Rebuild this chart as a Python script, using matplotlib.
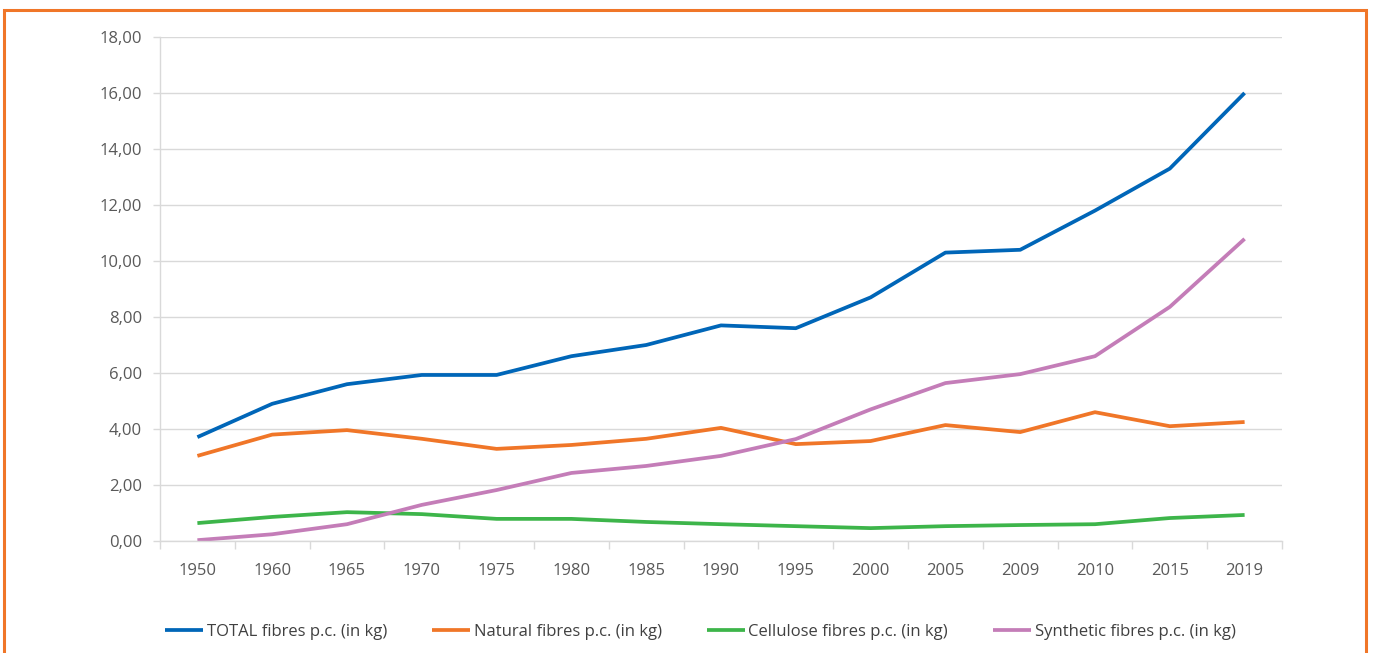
import matplotlib.pyplot as plt
from matplotlib.patches import Rectangle
from matplotlib.ticker import FuncFormatter, MultipleLocator

# Fibre consumption per capita, kg
years = ["1950", "1960", "1965", "1970", "1975", "1980", "1985", "1990",
         "1995", "2000", "2005", "2009", "2010", "2015", "2019"]
total = [3.71, 4.90, 5.60, 5.93, 5.93, 6.60, 7.00, 7.70,
         7.60, 8.70, 10.30, 10.40, 11.80, 13.30, 16.00]
natural = [3.04, 3.80, 3.96, 3.65, 3.29, 3.43, 3.65, 4.04,
           3.46, 3.57, 4.14, 3.89, 4.60, 4.10, 4.25]
cellulose = [0.64, 0.86, 1.03, 0.96, 0.79, 0.79, 0.68, 0.60,
             0.53, 0.46, 0.53, 0.57, 0.60, 0.82, 0.93]
synthetic = [0.03, 0.24, 0.60, 1.29, 1.82, 2.43, 2.68, 3.04,
             3.64, 4.70, 5.64, 5.96, 6.60, 8.36, 10.79]

series = [
    ("TOTAL fibres p.c. (in kg)", total, "#0066B8"),
    ("Natural fibres p.c. (in kg)", natural, "#F07628"),
    ("Cellulose fibres p.c. (in kg)", cellulose, "#3DB54A"),
    ("Synthetic fibres p.c. (in kg)", synthetic, "#C47DB8"),
]

plt.rcParams['font.family'] = ['Open Sans', 'DejaVu Sans']

fig = plt.figure(figsize=(13.73, 6.53), dpi=100)
ax = fig.add_axes([160 / 1373, 1 - 541 / 653, 1122 / 1373, 504 / 653])

x = range(len(years))
for label, vals, color in series:
    ax.plot(x, vals, color=color, lw=2.7, label=label, solid_capstyle='butt')

ax.set_xlim(-0.5, len(years) - 0.5)
ax.set_ylim(0, 18)
ax.yaxis.set_major_locator(MultipleLocator(2))
ax.yaxis.set_major_formatter(FuncFormatter(lambda v, p: f"{v:.2f}".replace(".", ",")))
ax.grid(axis='y', color='#d9d9d9', lw=1)
ax.set_axisbelow(True)

ax.set_xticks(list(x))
ax.set_xticklabels(years)
ax.set_xticks([i + 0.5 for i in range(-1, len(years))], minor=True)
ax.tick_params(axis='x', which='major', length=0, pad=16)
ax.tick_params(axis='x', which='minor', length=6, color='#d9d9d9', width=1)
ax.tick_params(axis='y', length=5, color='#d9d9d9', width=1, pad=8)
ax.tick_params(labelsize=12, labelcolor='#595959')

for side in ['top', 'right']:
    ax.spines[side].set_visible(False)
for side in ['left', 'bottom']:
    ax.spines[side].set_color('#d9d9d9')
    ax.spines[side].set_linewidth(1)

fig.legend(loc='center', bbox_to_anchor=(0.51, 1 - 632 / 653), ncol=4,
           frameon=False, fontsize=12, handlelength=2.3, handletextpad=0.2,
           columnspacing=2.7, labelcolor='#404040')

# orange frame around the chart area
fig.patches.append(Rectangle((4 / 1373, -0.1), 1362 / 1373, 1.1 - 10 / 653,
                             transform=fig.transFigure, fill=False,
                             edgecolor='#F07628', lw=2.2, clip_on=False))

fig.savefig("out.png", dpi=100)
